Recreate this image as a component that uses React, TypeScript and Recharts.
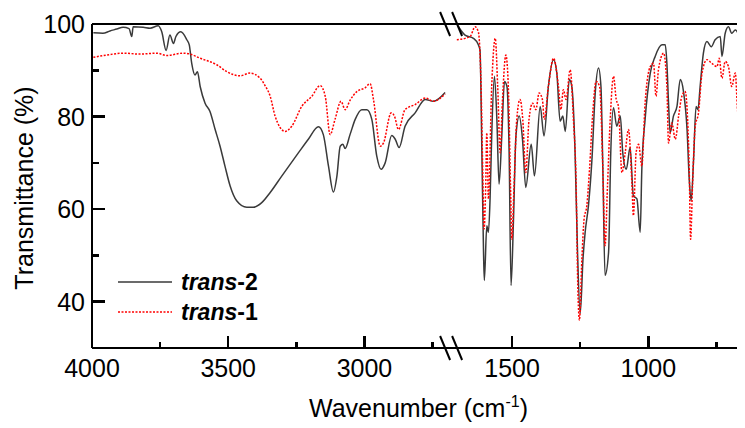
import React from 'react';
import { ComposedChart, Line, XAxis, YAxis, ReferenceLine, Legend } from 'recharts';

// ---- axis break definition (wavenumber, cm-1) ----
const HIGH_START = 4000;
const HIGH_END = 2682;
const LOW_START = 1724;
const LOW_END = 660;

const xMajorTicks = [4000, 3500, 3000, 1500, 1000];
const xMinorTicks = [3750, 3250, 2750, 1250, 750];
const yMajorTicks = [40, 60, 80, 100];
const yMinorTicks = [50, 70, 90];

const seriesNames = ['trans-2', 'trans-1'];

// ---- trans-2 (black), high-wavenumber segment ----
const t2HighWn = [3995, 3960, 3934, 3909, 3886, 3864, 3854, 3849, 3812, 3787, 3757, 3744, 3728, 3714, 3701, 3692, 3674, 3652, 3643, 3634, 3622, 3613, 3603, 3585, 3567, 3548, 3530, 3512, 3493, 3469, 3432, 3408, 3377, 3346, 3303, 3242, 3206, 3169, 3151, 3132, 3114, 3101, 3089, 3079, 3071, 3053, 3034, 3010, 2991, 2973, 2955, 2939, 2924, 2900, 2887, 2873, 2851, 2814, 2777, 2747, 2704];
const t2HighT = [98.1, 98.0, 98.5, 98.9, 99.3, 99.0, 97.3, 99.4, 99.3, 99.1, 99.6, 98.3, 94.3, 97.6, 95.8, 97.3, 98.3, 96.6, 95.5, 91.5, 89.0, 89.7, 86.5, 82.9, 81.1, 77.2, 73.6, 69.3, 65.0, 61.8, 60.4, 60.4, 61.4, 63.6, 67.2, 72.2, 75.1, 77.8, 76.1, 69.3, 63.7, 67.2, 73.6, 74.0, 73.1, 76.1, 79.4, 81.5, 81.5, 79.4, 71.5, 68.6, 70.0, 75.9, 75.1, 73.3, 77.9, 80.8, 83.7, 83.3, 85.2];

// ---- trans-1 (red), high-wavenumber segment ----
const t1HighWn = [3995, 3946, 3885, 3824, 3762, 3726, 3665, 3640, 3603, 3542, 3505, 3457, 3420, 3383, 3365, 3346, 3328, 3291, 3267, 3230, 3193, 3163, 3144, 3126, 3108, 3086, 3071, 3053, 3028, 2998, 2979, 2967, 2942, 2930, 2902, 2890, 2875, 2851, 2814, 2777, 2747, 2704];
const t1HighT = [92.8, 93.3, 93.7, 93.5, 93.7, 93.2, 93.7, 93.5, 92.6, 91.2, 89.7, 88.8, 89.4, 88.3, 86.7, 84.4, 80.1, 76.8, 77.9, 82.2, 84.4, 86.7, 84.4, 76.1, 79.4, 83.3, 81.5, 83.5, 85.4, 86.2, 87.1, 83.7, 73.6, 74.3, 80.8, 80.1, 77.2, 81.5, 82.6, 84.0, 83.3, 84.9];

// ---- trans-2 (black), fingerprint segment ----
const t2LowWn = [1697, 1673, 1642, 1624, 1618, 1611, 1605, 1602, 1593, 1587, 1581, 1575, 1565, 1556, 1548, 1538, 1528, 1519, 1511, 1504, 1495, 1486, 1474, 1462, 1450, 1430, 1418, 1397, 1383, 1367, 1348, 1336, 1324, 1314, 1305, 1290, 1281, 1269, 1260, 1250, 1240, 1232, 1220, 1207, 1195, 1183, 1174, 1167, 1159, 1146, 1138, 1128, 1116, 1103, 1094, 1081, 1067, 1055, 1042, 1030, 1024, 1012, 993, 975, 950, 938, 932, 926, 920, 908, 895, 883, 871, 858, 850, 843, 834, 825, 818, 810, 798, 785, 769, 755, 736, 730, 718, 706, 694, 681, 669, 662];
const t2LowT = [99.4, 97.6, 96.9, 95.5, 94.4, 72.2, 50.7, 44.6, 56.4, 55.0, 62.2, 75.8, 88.7, 79.4, 65.4, 75.8, 87.6, 86.5, 72.2, 43.5, 57.8, 75.8, 80.1, 75.1, 64.7, 74.0, 67.2, 82.2, 75.8, 86.5, 92.3, 89.4, 79.0, 80.1, 76.8, 88.0, 86.5, 72.2, 50.7, 37.5, 49.2, 55.0, 60.7, 70.8, 85.1, 90.5, 86.5, 68.6, 45.7, 50.7, 72.2, 81.9, 77.9, 80.1, 72.2, 68.6, 73.3, 62.9, 62.2, 55.0, 68.6, 79.4, 89.4, 93.0, 95.5, 95.5, 91.5, 82.9, 76.5, 80.1, 82.2, 88.0, 85.4, 77.2, 66.5, 61.8, 70.8, 82.2, 81.5, 86.5, 93.7, 96.2, 95.1, 96.6, 97.3, 93.0, 98.0, 99.4, 98.0, 98.7, 97.6, 90.8];

// ---- trans-1 (red), fingerprint segment ----
const t1LowWn = [1703, 1673, 1654, 1636, 1624, 1614, 1608, 1603, 1597, 1593, 1587, 1575, 1562, 1553, 1544, 1536, 1523, 1514, 1506, 1501, 1493, 1483, 1471, 1461, 1450, 1438, 1425, 1413, 1401, 1389, 1382, 1367, 1348, 1330, 1321, 1312, 1302, 1287, 1275, 1265, 1259, 1253, 1244, 1236, 1226, 1216, 1204, 1192, 1179, 1167, 1159, 1150, 1140, 1128, 1118, 1110, 1097, 1085, 1073, 1060, 1055, 1045, 1036, 1024, 1012, 993, 981, 972, 963, 944, 932, 926, 914, 901, 889, 877, 865, 856, 850, 845, 838, 828, 816, 803, 785, 767, 748, 740, 730, 718, 706, 694, 681, 671, 663];
const t1LowT = [96.6, 96.9, 97.3, 99.4, 98.3, 86.5, 68.6, 55.7, 65.0, 76.5, 62.2, 86.5, 96.9, 86.5, 72.2, 82.9, 93.3, 86.5, 65.0, 53.5, 65.0, 79.4, 83.7, 79.4, 67.9, 79.4, 82.9, 81.5, 85.1, 83.7, 79.4, 86.5, 92.6, 86.5, 81.5, 85.8, 83.7, 90.1, 79.4, 65.0, 43.5, 36.0, 49.2, 57.8, 60.7, 68.6, 80.8, 87.6, 86.5, 68.6, 52.1, 65.0, 79.4, 88.7, 83.7, 82.2, 67.9, 72.2, 77.2, 65.0, 58.6, 72.2, 74.0, 69.3, 82.9, 90.8, 91.5, 84.4, 90.1, 93.7, 86.5, 74.3, 78.6, 75.1, 80.1, 84.4, 85.4, 79.4, 68.6, 53.5, 65.0, 77.9, 80.8, 89.4, 92.3, 91.5, 90.8, 92.6, 88.3, 91.9, 90.8, 86.5, 89.4, 80.8, 86.5];

// ---- broken-axis mapping: wavenumber -> continuous position ----
const GAP_POS = HIGH_START - HIGH_END;
const toPos = (w: number) => (w >= 2000 ? HIGH_START - w : GAP_POS + (LOW_START - w));
const fromPos = (p: number) => (p <= GAP_POS ? HIGH_START - p : LOW_START - (p - GAP_POS));
const X_MAX = toPos(LOW_END);
const Y_MIN = 30;
const Y_MAX = 100;

const build = (wn: number[], t: number[]) => wn.map((w, i) => ({ p: toPos(w), t: t[i] }));
const t2High = build(t2HighWn, t2HighT);
const t2Low = build(t2LowWn, t2LowT);
const t1High = build(t1HighWn, t1HighT);
const t1Low = build(t1LowWn, t1LowT);

// ---- layout ----
const CHART_W = 737;
const CHART_H = 420;
const MARGIN = { top: 16, right: 4, bottom: 0, left: 0 };
const Y_AXIS_W = 84;
const X_AXIS_H = 80;
const PLOT_LEFT = MARGIN.left + Y_AXIS_W;
const PLOT_TOP = MARGIN.top;
const PLOT_RIGHT = CHART_W - MARGIN.right;
const PLOT_BOTTOM = CHART_H - MARGIN.bottom - X_AXIS_H;
const sx = (p: number) => PLOT_LEFT + (p / X_MAX) * (PLOT_RIGHT - PLOT_LEFT);
const sy = (v: number) => PLOT_BOTTOM - ((v - Y_MIN) / (Y_MAX - Y_MIN)) * (PLOT_BOTTOM - PLOT_TOP);

const FONT = 'Liberation Sans, Arial, sans-serif';
const BLACK = '#3a3a3a';
const RED = '#ff0000';

const XTick = (props: any) => {
  const { x, y, payload } = props;
  const w = Math.round(fromPos(payload.value));
  return (
    <text x={x} y={y + 29} textAnchor="middle" fontSize={25} fontFamily={FONT} fill="#000">
      {w}
    </text>
  );
};

const YTick = (props: any) => {
  const { x, y, payload } = props;
  return (
    <text x={x - 7} y={y + 9} textAnchor="end" fontSize={25} fontFamily={FONT} fill="#000">
      {payload.value}
    </text>
  );
};

const YLabel = (props: any) => {
  const vb = props.viewBox;
  const cx = 16;
  const cy = vb.y + vb.height / 2 + 2;
  return (
    <text x={cx} y={cy} transform={`rotate(-90, ${cx}, ${cy})`} textAnchor="middle" dominantBaseline="central" fontSize={25} fontFamily={FONT} fill="#000">
      Transmittance (%)
    </text>
  );
};

const XLabel = (props: any) => {
  const vb = props.viewBox;
  const cx = vb.x + vb.width / 2 + 2;
  const y = vb.y + 69;
  return (
    <text x={cx} y={y} textAnchor="middle" fontSize={25} fontFamily={FONT} fill="#000">
      Wavenumber (cm
      <tspan dy={-10} fontSize={16}>-1</tspan>
      <tspan dy={10}>)</tspan>
    </text>
  );
};

const FrameLine = (props: any) => {
  const { x1, y1, x2, y2 } = props;
  return <line x1={x1} y1={y1} x2={x2} y2={y2} stroke="#000" strokeWidth={2} />;
};

const BreakMarks = (props: any) => {
  const { x1, y1, y2 } = props;
  const top = Math.min(y1, y2);
  const bottom = Math.max(y1, y2);
  const xs = [x1 - 6, x1 + 6];
  return (
    <g>
      {[top, bottom].map((yy, i) =>
        xs.map((xx, j) => (
          <line key={`${i}-${j}`} x1={xx - 5} y1={yy - 12} x2={xx + 5} y2={yy + 12} stroke="#000" strokeWidth={2} />
        ))
      )}
    </g>
  );
};

// inward tick marks (major long, minor short), placed with the same linear mapping as the axes
const TickOverlay = () => (
  <svg width={CHART_W} height={CHART_H} style={{ position: 'absolute', left: 0, top: 0, pointerEvents: 'none', zIndex: 5 }}>
    {xMajorTicks.map((w) => (
      <line key={`xM${w}`} x1={sx(toPos(w))} y1={PLOT_BOTTOM} x2={sx(toPos(w))} y2={PLOT_BOTTOM - 12} stroke="#000" strokeWidth={2.5} shapeRendering="crispEdges" />
    ))}
    {xMinorTicks.map((w) => (
      <line key={`xm${w}`} x1={sx(toPos(w))} y1={PLOT_BOTTOM} x2={sx(toPos(w))} y2={PLOT_BOTTOM - 6} stroke="#000" strokeWidth={2.5} shapeRendering="crispEdges" />
    ))}
    {yMajorTicks.map((v) => (
      <line key={`yM${v}`} x1={PLOT_LEFT} y1={sy(v)} x2={PLOT_LEFT + 13} y2={sy(v)} stroke="#000" strokeWidth={2.5} shapeRendering="crispEdges" />
    ))}
    {yMinorTicks.map((v) => (
      <line key={`ym${v}`} x1={PLOT_LEFT} y1={sy(v)} x2={PLOT_LEFT + 7} y2={sy(v)} stroke="#000" strokeWidth={2.5} shapeRendering="crispEdges" />
    ))}
  </svg>
);

const renderLegend = () => (
  <svg width={170} height={64} style={{ overflow: 'visible' }}>
    {seriesNames.map((name, i) => {
      const [a, b] = name.split('-');
      const yy = 12 + i * 30;
      return (
        <g key={name}>
          <line x1={0} y1={yy} x2={54} y2={yy} stroke={i === 0 ? BLACK : RED} strokeWidth={1.5} strokeDasharray={i === 0 ? undefined : '2 1.5'} />
          <text x={63} y={yy + 8} fontSize={23} fontWeight="bold" fontFamily={FONT} fill="#000">
            <tspan fontStyle="italic">{a}</tspan>-{b}
          </text>
        </g>
      );
    })}
  </svg>
);

export default function App() {
  return (
    <div style={{ position: 'relative', width: CHART_W, height: CHART_H }}>
      <ComposedChart width={CHART_W} height={CHART_H} margin={MARGIN}>
        <XAxis
          dataKey="p"
          type="number"
          domain={[0, X_MAX]}
          ticks={xMajorTicks.map(toPos)}
          tick={<XTick />}
          tickSize={0}
          tickMargin={0}
          tickLine={false}
          axisLine={{ stroke: '#000', strokeWidth: 2 }}
          height={X_AXIS_H}
          allowDataOverflow
          interval={0}
          label={XLabel}
        />
        <YAxis
          type="number"
          domain={[Y_MIN, Y_MAX]}
          ticks={yMajorTicks}
          tick={<YTick />}
          tickSize={0}
          tickMargin={0}
          tickLine={false}
          axisLine={{ stroke: '#000', strokeWidth: 2 }}
          width={Y_AXIS_W}
          allowDataOverflow
          interval={0}
          label={YLabel}
        />
        <ReferenceLine y={Y_MAX} ifOverflow="visible" stroke="#000" shape={FrameLine} />
        <ReferenceLine x={X_MAX} ifOverflow="visible" stroke="#000" shape={FrameLine} />
        <Line data={t2High} dataKey="t" type="monotone" stroke={BLACK} strokeWidth={1.5} dot={false} isAnimationActive={false} name="trans-2" />
        <Line data={t2Low} dataKey="t" type="monotone" stroke={BLACK} strokeWidth={1.5} dot={false} isAnimationActive={false} legendType="none" />
        <Line data={t1High} dataKey="t" type="monotone" stroke={RED} strokeWidth={1.5} strokeDasharray="2 1.5" dot={false} isAnimationActive={false} name="trans-1" />
        <Line data={t1Low} dataKey="t" type="monotone" stroke={RED} strokeWidth={1.5} strokeDasharray="2 1.5" dot={false} isAnimationActive={false} legendType="none" />
        <ReferenceLine x={GAP_POS} stroke="none" shape={BreakMarks} />
        <Legend layout="vertical" align="center" verticalAlign="middle" content={renderLegend} wrapperStyle={{ left: 110, top: 262, width: 170, height: 64 }} />
      </ComposedChart>
      <TickOverlay />
    </div>
  );
}
